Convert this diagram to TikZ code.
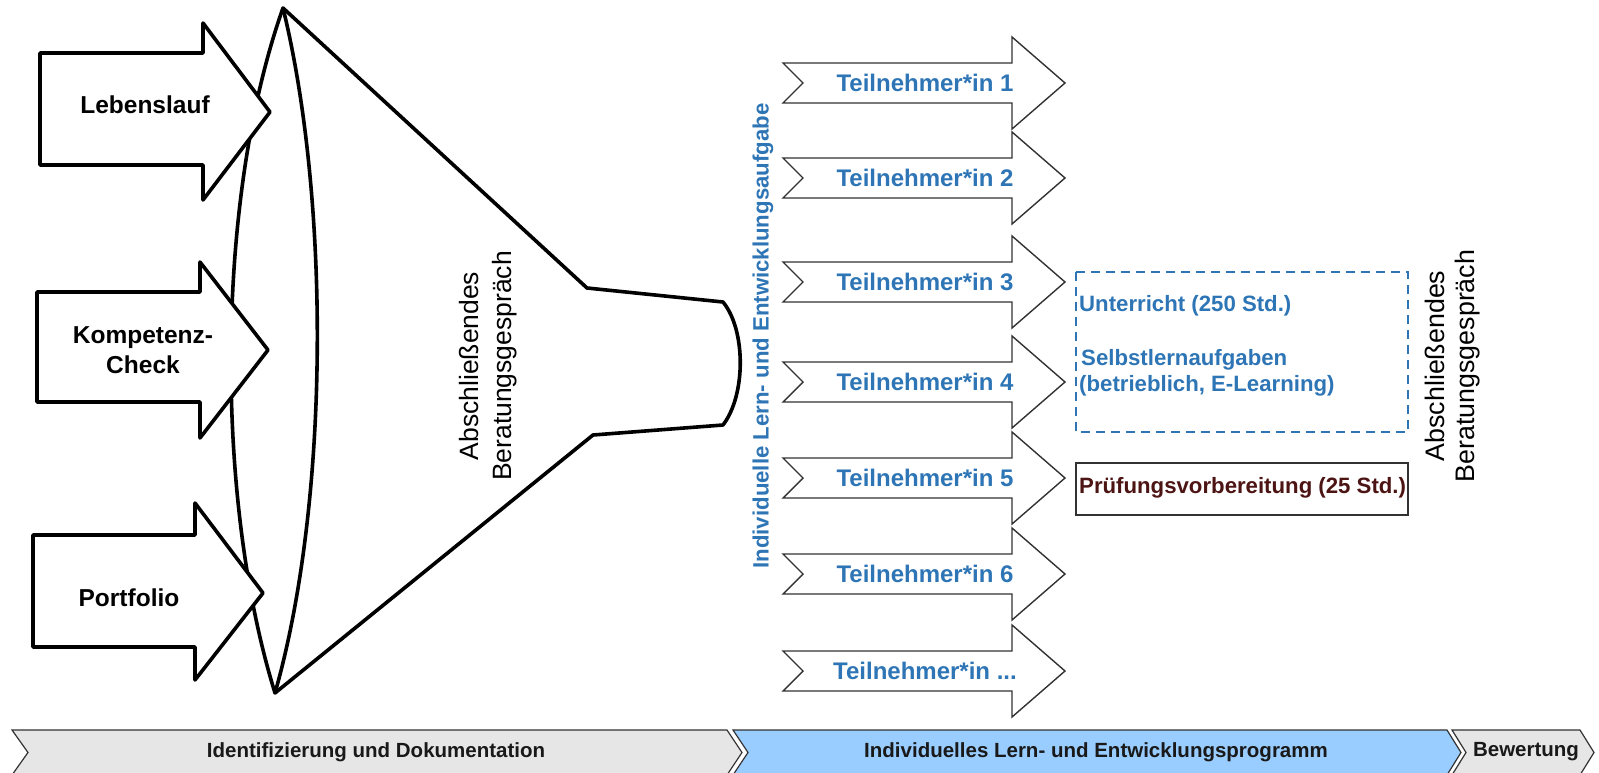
\documentclass[tikz,border=0pt]{standalone}
\usepackage{fontspec}
\setmainfont{Liberation Sans}
\definecolor{tblue}{RGB}{46,117,182}
\definecolor{barblue}{RGB}{153,204,255}
\definecolor{bargray}{RGB}{230,230,230}
\definecolor{maroon}{RGB}{77,20,20}
\definecolor{edge}{RGB}{50,50,50}
\newcommand\tndots{...}
\begin{document}
\begin{tikzpicture}[x=1pt,y=-1pt,
  thick line/.style={line width=3.6pt, line join=round, draw=black, fill=white},
  tnarrow/.style={line width=1.4pt, draw=edge, fill=white, line join=miter},
  inlbl/.style={font=\bfseries\fontsize{24.5}{30}\selectfont, align=center, inner sep=0pt},
  tnlbl/.style={font=\bfseries\fontsize{24}{28}\selectfont, text=tblue, inner sep=0pt},
  vlbl/.style={align=center, inner sep=0pt, rotate=90},
  boxlbl/.style={font=\bfseries\fontsize{22.2}{26}\selectfont, anchor=west, inner sep=0pt},
  barlbl/.style={font=\bfseries\fontsize{20.5}{24}\selectfont, text=black!90, inner sep=0pt},
  bar/.style={line width=1.2pt, draw=edge}
]
\useasboundingbox (0,0) rectangle (1599,773);
\begin{scope}
\clip (0,0) rectangle (1599,773);
% bottom bar
\draw[bar, fill=bargray] (12,730) -- (727,730) -- (742,752.5) -- (727,775) -- (12,775) -- (28,752.5) -- cycle;
\draw[bar, fill=barblue] (733,730) -- (1447,730) -- (1461,752.5) -- (1447,775) -- (733,775) -- (748,752.5) -- cycle;
\draw[bar, fill=bargray] (1452,730) -- (1580,730) -- (1594,752.5) -- (1580,775) -- (1452,775) -- (1466,752.5) -- cycle;
\end{scope}
\node[barlbl] (b1) at (376,752) {Identifizierung und Dokumentation};
\node[barlbl] (b2) at (1096,752) {Individuelles Lern- und Entwicklungsprogramm};
\node[barlbl] (b3) at (1526,752) {Bewertung};

% funnel
\coordinate (top) at (283,8);
\coordinate (bot) at (275,693);
\draw[thick line] (top) -- (587,288) -- (723,302) .. controls (746,330) and (746,395) .. (723,425) -- (593,435) -- (bot)
  .. controls (215,500) and (215,200) .. (top) -- cycle;
\draw[thick line, fill=none] (top) .. controls (330,200) and (330,500) .. (bot);

% input arrows
\draw[thick line] (40,53) -- (203,53) -- (203,23) -- (270,112) -- (203,200) -- (203,165) -- (40,165) -- cycle;
\draw[thick line] (37,292) -- (200,292) -- (200,262) -- (268,350) -- (200,438) -- (200,402) -- (37,402) -- cycle;
\draw[thick line] (33,535) -- (195,535) -- (195,503) -- (263,593) -- (195,680) -- (195,647) -- (33,647) -- cycle;
\node[inlbl] (leb) at (145,105) {Lebenslauf};
\node[inlbl] (kom) at (143,350) {Kompetenz-\\Check};
\node[inlbl] (por) at (129,598) {Portfolio};

\node[vlbl, font=\fontsize{26.5}{33}\selectfont] (ab1) at (488,366) {Abschließendes\\Beratungsgespräch};

% vertical blue label
\node[font=\bfseries\fontsize{22.2}{26}\selectfont, text=tblue, rotate=90, inner sep=0pt] (ila) at (763,336) {Individuelle Lern- und Entwicklungsaufgabe};

% participant arrows
\foreach \c/\t/\n in {83/1/t1, 178/2/t2, 282/3/t3, 382/4/t4, 478/5/t5, 574/6/t6, 671/\tndots/t7}{
  \draw[tnarrow] (783,\c-20) -- (1012,\c-20) -- (1012,\c-46) -- (1065,\c) -- (1012,\c+46) -- (1012,\c+20) -- (783,\c+20) -- (803,\c) -- cycle;
  \node[tnlbl] (\n) at (925,\c) {Teilnehmer*in \t};
}

% boxes
\draw[tblue, line width=1.4pt, dash pattern=on 9pt off 6pt] (1076,272) rectangle (1408,432);
\node[boxlbl, text=tblue] (u1) at (1079,306) {Unterricht (250 Std.)};
\node[boxlbl, text=tblue] (u2) at (1081,360) {Selbstlernaufgaben};
\node[boxlbl, text=tblue] (u3) at (1079,386) {(betrieblich, E-Learning)};
\draw[edge, line width=1.4pt] (1076,463) rectangle (1408,515);
\node[boxlbl, text=maroon] (pv) at (1079,488) {Prüfungsvorbereitung (25 Std.)};

\node[vlbl, font=\fontsize{26.8}{30}\selectfont] (ab2) at (1453,366) {Abschließendes\\Beratungsgespräch};
\end{tikzpicture}
\end{document}
